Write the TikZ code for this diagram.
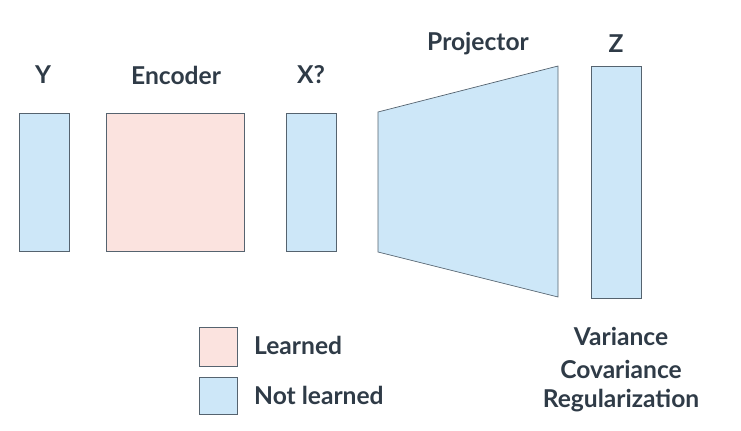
\documentclass[tikz,border=0pt]{standalone}
\usepackage{fontspec}
\setmainfont{Lato}
\usepackage{tikz}
\definecolor{nlblue}{HTML}{CDE7F8}
\definecolor{lpink}{HTML}{FBE3DF}
\definecolor{edge}{HTML}{55636F}
\definecolor{ink}{HTML}{2F3B47}
\begin{document}
\begin{tikzpicture}
        [x=0.02cm,y=-0.02cm,every node/.style={text=ink,font=\bfseries\fontsize{14}{16}\selectfont},
        box/.style={draw=edge,line width=0.4pt,fill=nlblue}]

        \useasboundingbox (0,0) rectangle (741,430);

        \draw[box] (19,113) rectangle (69,251);
        \draw[box,fill=lpink] (106,113) rectangle (244,251);
        \draw[box] (286,113) rectangle (336,251);
        \draw[box] (378,112) -- (558,66) -- (558,297) -- (378,252) -- cycle;
        \draw[box] (591,66) rectangle (641,298);

        \node (ly) at (43,75) {Y};
        \node (lenc) at (176,75) {Encoder};
        \node (lx) at (311,75) {X?};
        \node (lproj) at (478,44) {Projector};
        \node (lz) at (616,44) {Z};

        \draw[box,fill=lpink] (199,327) rectangle (237,366);
        \draw[box] (199,377) rectangle (237,414);
        \node[anchor=west] (learned) at (248,345) {Learned};
        \node[anchor=west] (notlearned) at (248,395) {Not learned};

        \node (var) at (621,336) {Variance};
        \node (cov) at (621,369) {Covariance};
        \node (reg) at (621,401) {Regularization};

      \end{tikzpicture}
\end{document}
